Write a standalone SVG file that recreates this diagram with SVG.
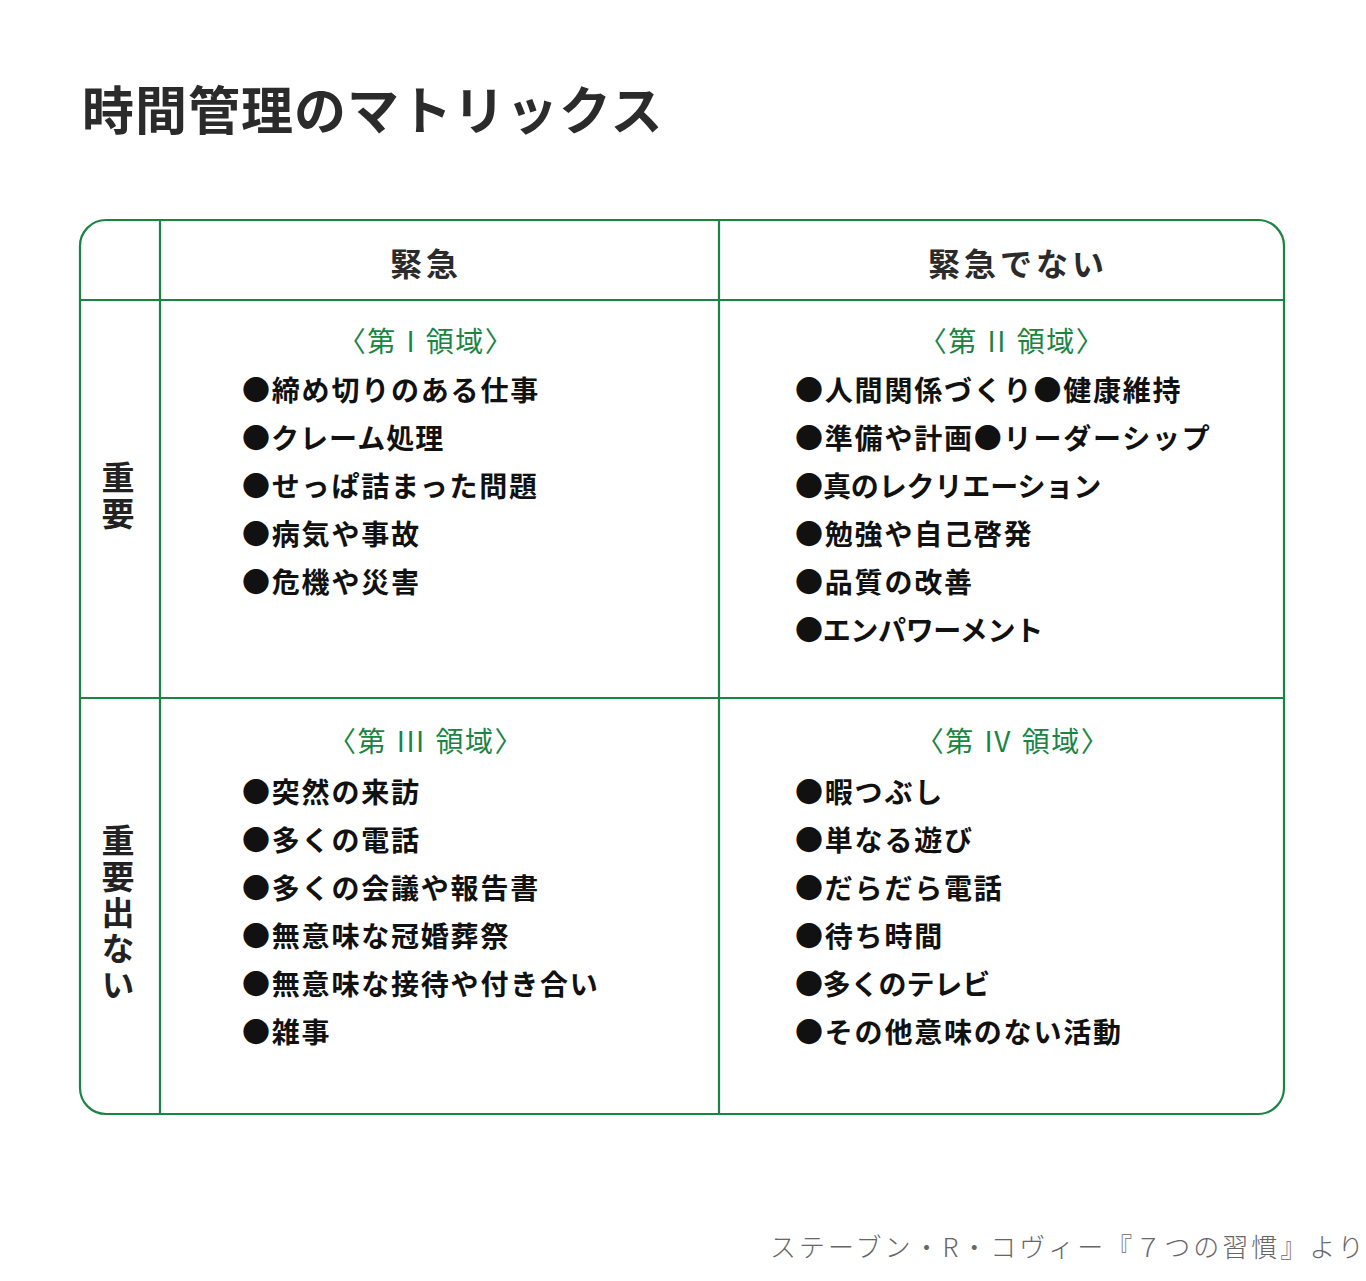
<svg xmlns="http://www.w3.org/2000/svg" width="1366" height="1281" viewBox="0 0 1366 1281">
<style>
text{font-family:"Noto Sans CJK JP","Noto Sans",sans-serif;}
.title{font-size:52px;font-weight:700;fill:#2b2b2b;letter-spacing:1px;}
.hdr{font-size:32px;font-weight:700;fill:#2b2b2b;letter-spacing:4px;}
.side{font-size:33px;font-weight:700;fill:#222;writing-mode:vertical-rl;letter-spacing:3px;}
.quad{font-size:28px;font-weight:400;fill:#1a8443;text-anchor:middle;letter-spacing:1.5px;word-spacing:2px;}
.item{font-size:28px;font-weight:700;fill:#111;letter-spacing:1.8px;}
.foot{font-size:26px;font-weight:300;fill:#666;letter-spacing:3px;}
.grid{fill:none;stroke:#1a8443;stroke-width:2.2;}
</style>
<rect width="1366" height="1281" fill="#fff"/>
<g id="title"><text class="title" x="82" y="130">時間管理のマトリックス</text></g>
<g id="connectors">
<rect class="grid" x="80" y="220" width="1204" height="894" rx="26" ry="26"/>
<line class="grid" x1="160" y1="220" x2="160" y2="1114"/>
<line class="grid" x1="719" y1="220" x2="719" y2="1114"/>
<line class="grid" x1="80" y1="300" x2="1284" y2="300"/>
<line class="grid" x1="80" y1="698" x2="1284" y2="698"/>
</g>
<g id="header-urgent"><text class="hdr" x="390" y="276">緊急</text></g>
<g id="header-not-urgent"><text class="hdr" x="928" y="276">緊急でない</text></g>
<g id="row-important"><text class="side" x="118" y="461">重要</text></g>
<g id="row-not-important"><text class="side" x="118" y="824">重要出ない</text></g>
<g id="quadrant-1">
<text class="quad" x="426" y="352">〈第 I 領域〉</text>
<text class="item" x="242" y="401">●締め切りのある仕事</text>
<text class="item" x="242" y="449" textLength="203" lengthAdjust="spacing">●クレーム処理</text>
<text class="item" x="242" y="497">●せっぱ詰まった問題</text>
<text class="item" x="242" y="545">●病気や事故</text>
<text class="item" x="242" y="593">●危機や災害</text>
</g>
<g id="quadrant-2">
<text class="quad" x="1012" y="352">〈第 II 領域〉</text>
<text class="item" x="795" y="401">●人間関係づくり●健康維持</text>
<text class="item" x="795" y="449">●準備や計画●リーダーシップ</text>
<text class="item" x="795" y="497" textLength="308" lengthAdjust="spacing">●真のレクリエーション</text>
<text class="item" x="795" y="545">●勉強や自己啓発</text>
<text class="item" x="795" y="593">●品質の改善</text>
<text class="item" x="795" y="641" textLength="250" lengthAdjust="spacing">●エンパワーメント</text>
</g>
<g id="quadrant-3">
<text class="quad" x="426" y="752">〈第 III 領域〉</text>
<text class="item" x="242" y="803">●突然の来訪</text>
<text class="item" x="242" y="851">●多くの電話</text>
<text class="item" x="242" y="899">●多くの会議や報告書</text>
<text class="item" x="242" y="947">●無意味な冠婚葬祭</text>
<text class="item" x="242" y="995">●無意味な接待や付き合い</text>
<text class="item" x="242" y="1043">●雑事</text>
</g>
<g id="quadrant-4">
<text class="quad" x="1013" y="752">〈第 IV 領域〉</text>
<text class="item" x="795" y="803">●暇つぶし</text>
<text class="item" x="795" y="851">●単なる遊び</text>
<text class="item" x="795" y="899">●だらだら電話</text>
<text class="item" x="795" y="947">●待ち時間</text>
<text class="item" x="795" y="995" textLength="197" lengthAdjust="spacing">●多くのテレビ</text>
<text class="item" x="795" y="1043">●その他意味のない活動</text>
</g>
<g id="footer"><text class="foot" x="770" y="1257">ステーブン・R・コヴィー『７つの習慣』より</text></g>
</svg>
